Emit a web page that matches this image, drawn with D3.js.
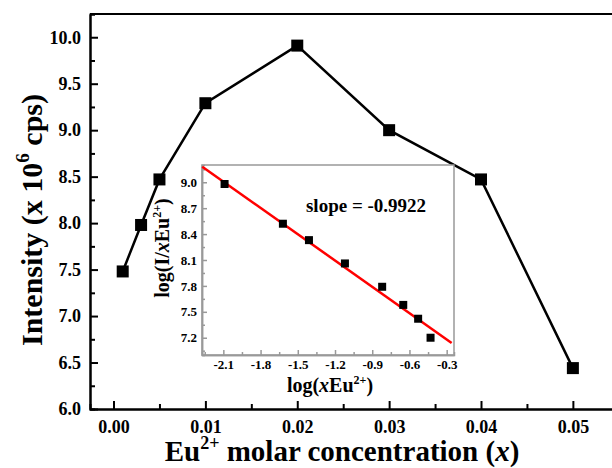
<!DOCTYPE html>
<head>
  <meta charset="utf-8">
  <script src="https://d3js.org/d3.v7.min.js"></script>
  <style>
    body { margin:0; background:#fff; }
    svg text { font-family:"Liberation Serif","Times New Roman",serif !important; font-weight:bold; fill:#000; }
    .axis path, .axis line { stroke:#000; stroke-width:2; }
    .inset path, .inset line { stroke:#999; stroke-width:1.5; }
    .inset text { font-size:13px; }
    .main text { font-size:18px; }
  </style>
</head>
<body>
<script>
// main data: Eu2+ concentration vs intensity
var conc = [0.001, 0.003, 0.005, 0.01, 0.02, 0.03, 0.04, 0.05];
var intensity = [7.48, 7.98, 8.47, 9.29, 9.91, 9.0, 8.47, 6.44];

// inset: log(xEu) vs log(I/xEu)
var logX = [-2.09, -1.62, -1.41, -1.12, -0.82, -0.65, -0.53, -0.43];
var logIX = [8.98, 8.52, 8.33, 8.06, 7.79, 7.58, 7.42, 7.20];
var fitX = [-2.27, -0.26];
var fitY = [9.18, 7.14];

var yTicks = [6.0, 6.5, 7.0, 7.5, 8.0, 8.5, 9.0, 9.5, 10.0];
var xTicks = [0.00, 0.01, 0.02, 0.03, 0.04, 0.05];
var insetXTicks = [-2.1, -1.8, -1.5, -1.2, -0.9, -0.6, -0.3];
var insetYTicks = [7.2, 7.5, 7.8, 8.1, 8.4, 8.7, 9.0];

var svg = d3.select("body").append("svg")
  .attr("width", 612).attr("height", 468);

var x = d3.scaleLinear().domain([-0.00256, 0.056]).range([90, 628]);
var y = d3.scaleLinear().domain([6.0, 10.25]).range([409, 14]);

// frame top line
svg.append("line").attr("x1", 90).attr("x2", 628).attr("y1", 14).attr("y2", 14)
  .attr("stroke", "#000").attr("stroke-width", 2);

// minor ticks
svg.append("g").attr("class", "axis").attr("transform", "translate(0,409)")
  .call(d3.axisBottom(x).tickValues(d3.range(0.005, 0.056, 0.01)).tickSize(-5).tickFormat(""));
svg.append("g").attr("class", "axis").attr("transform", "translate(90,0)")
  .call(d3.axisLeft(y).tickValues(d3.range(6.25, 10.3, 0.5)).tickSize(-5).tickFormat(""));

svg.append("g").attr("class", "axis main").attr("transform", "translate(0,409)")
  .call(d3.axisBottom(x).tickValues(xTicks).tickSizeInner(-8).tickSizeOuter(0).tickPadding(11).tickFormat(d3.format(".2f")));
svg.append("g").attr("class", "axis main").attr("transform", "translate(90,0)")
  .call(d3.axisLeft(y).tickValues(yTicks).tickSizeInner(-8).tickSizeOuter(0).tickPadding(9).tickFormat(d3.format(".1f")));

var pts = conc.map(function(c, i) { return [c, intensity[i]]; });

svg.append("path").datum(pts)
  .attr("fill", "none").attr("stroke", "#000").attr("stroke-width", 2.5)
  .attr("d", d3.line().x(function(d) { return x(d[0]); }).y(function(d) { return y(d[1]); }));

// inset
var ix = d3.scaleLinear().domain([-2.272, -0.241]).range([202, 454]);
var iy = d3.scaleLinear().domain([7.0, 9.2]).range([355, 165]);

svg.append("rect").attr("x", 202).attr("y", 165).attr("width", 252).attr("height", 190)
  .attr("fill", "#fff").attr("stroke", "#999").attr("stroke-width", 1.5);

svg.selectAll(".dot").data(pts).enter().append("rect")
  .attr("x", function(d) { return x(d[0]) - 6; })
  .attr("y", function(d) { return y(d[1]) - 6; })
  .attr("width", 12).attr("height", 12).attr("fill", "#000");

svg.append("g").attr("class", "inset").attr("transform", "translate(0,355)")
  .call(d3.axisBottom(ix).tickValues(d3.range(-2.25, -0.2, 0.3)).tickSize(-3).tickFormat(""));
svg.append("g").attr("class", "inset").attr("transform", "translate(202,0)")
  .call(d3.axisLeft(iy).tickValues(d3.range(7.05, 9.2, 0.3)).tickSize(-3).tickFormat(""));
svg.append("g").attr("class", "inset").attr("transform", "translate(0,355)")
  .call(d3.axisBottom(ix).tickValues(insetXTicks).tickSizeInner(-5).tickSizeOuter(0).tickPadding(5).tickFormat(d3.format(".1f")));
svg.append("g").attr("class", "inset").attr("transform", "translate(202,0)")
  .call(d3.axisLeft(iy).tickValues(insetYTicks).tickSizeInner(-5).tickSizeOuter(0).tickPadding(5).tickFormat(d3.format(".1f")));
svg.selectAll(".inset text").text(function() { return this.textContent.replace("−", "-"); });
svg.selectAll("g").attr("font-family", null);

svg.append("line")
  .attr("x1", ix(fitX[0])).attr("y1", iy(fitY[0]))
  .attr("x2", ix(fitX[1])).attr("y2", iy(fitY[1]))
  .attr("stroke", "#f00").attr("stroke-width", 2.5);

logX.forEach(function(v, i) {
  svg.append("rect").attr("x", ix(v) - 4).attr("y", iy(logIX[i]) - 4)
    .attr("width", 8).attr("height", 8).attr("fill", "#000");
});

svg.append("text").attr("x", 366).attr("y", 212).attr("text-anchor", "middle")
  .style("font-size", "19px").text("slope = -0.9922");

// inset labels
var ixl = svg.append("text").attr("x", 330).attr("y", 392).attr("text-anchor", "middle").style("font-size", "20px");
ixl.append("tspan").text("log(");
ixl.append("tspan").style("font-style", "italic").text("x");
ixl.append("tspan").text("Eu");
ixl.append("tspan").attr("dy", -8).style("font-size", "12px").text("2+");
ixl.append("tspan").attr("dy", 8).text(")");

var iyl = svg.append("text").attr("transform", "translate(169,248) rotate(-90)")
  .attr("text-anchor", "middle").style("font-size", "20px");
iyl.append("tspan").text("log(I/");
iyl.append("tspan").style("font-style", "italic").text("x");
iyl.append("tspan").text("Eu");
iyl.append("tspan").attr("dy", -8).style("font-size", "12px").text("2+");
iyl.append("tspan").attr("dy", 8).text(")");

// main axis labels
var xl = svg.append("text").attr("x", 342).attr("y", 461).attr("text-anchor", "middle").style("font-size", "29px");
xl.append("tspan").text("Eu");
xl.append("tspan").attr("dy", -12).style("font-size", "18px").text("2+");
xl.append("tspan").attr("dy", 12).text(" molar concentration (");
xl.append("tspan").style("font-style", "italic").text("x");
xl.append("tspan").text(")");

var yl = svg.append("text").attr("transform", "translate(42,220) rotate(-90)")
  .attr("text-anchor", "middle").style("font-size", "30px");
yl.append("tspan").text("Intensity (x 10");
yl.append("tspan").attr("dy", -13).style("font-size", "19px").text("6");
yl.append("tspan").attr("dy", 13).text(" cps)");
</script>
</body>
